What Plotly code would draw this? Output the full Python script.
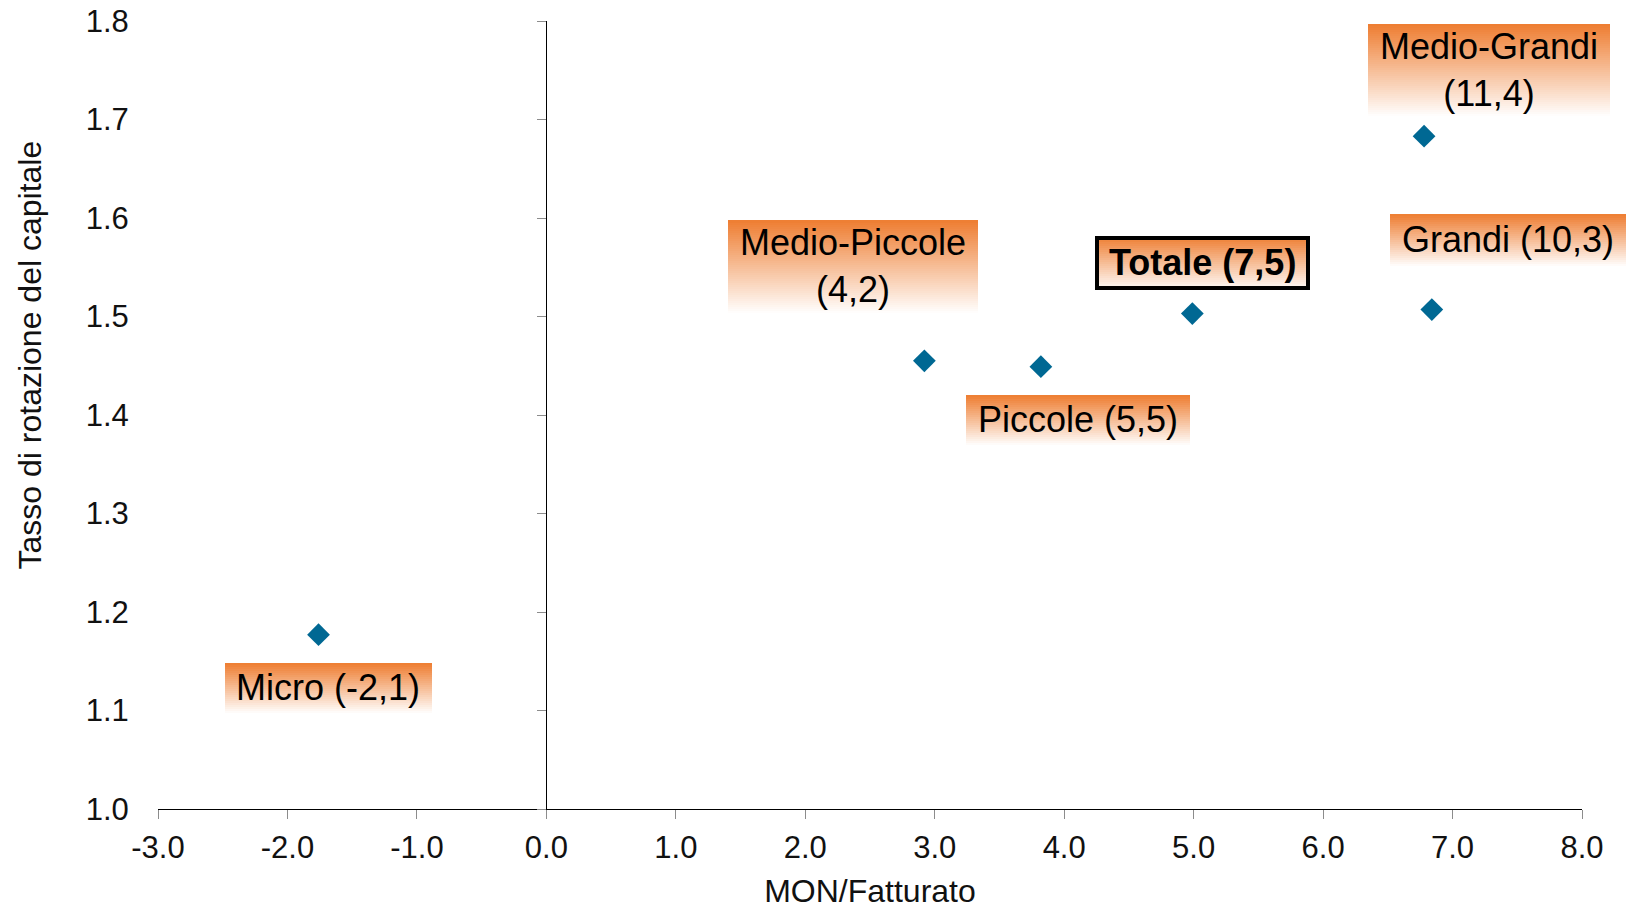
import plotly.graph_objects as go

# ---- data ----
LABELS = ["Micro (-2,1)", "Medio-Piccole<br>(4,2)", "Piccole (5,5)", "Totale (7,5)",
          "Medio-Grandi<br>(11,4)", "Grandi (10,3)"]
X_VALS = [-1.76, 2.92, 3.82, 4.99, 6.78, 6.84]
Y_VALS = [1.177, 1.455, 1.449, 1.503, 1.683, 1.507]
BOLD = [False, False, False, True, False, False]

X_RANGE = [-3.0, 8.0]
Y_RANGE = [1.0, 1.8]
X_TICKS = [-3, -2, -1, 0, 1, 2, 3, 4, 5, 6, 7, 8]
Y_TICKS = [1.0, 1.1, 1.2, 1.3, 1.4, 1.5, 1.6, 1.7, 1.8]

# label box geometry in pixels relative to the point: (left, right, bottom, top), up positive
BOXES = [(-94, 113, -78, -28), (-196, 54, 48, 141), (-75, 149, -78, -28),
         (-97, 118, 24, 78), (-56, 186, 20, 112), (-42, 194, 44, 96)]

FONT = "Liberation Sans, Arial, Helvetica, sans-serif"
ORANGE = (238, 125, 49)
MARKER = "#006893"

fig = go.Figure()
fig.add_trace(go.Scatter(
    x=X_VALS, y=Y_VALS, mode="markers",
    marker=dict(symbol="diamond", size=17.5, color=MARKER, line=dict(width=0)),
    hoverinfo="skip", showlegend=False))
# invisible trace to carry the secondary y axis (drawn at x=0)
fig.add_trace(go.Scatter(x=X_VALS, y=Y_VALS, mode="markers", yaxis="y2",
                         marker=dict(opacity=0), hoverinfo="skip", showlegend=False))

annotations = []
for xv, yv, (l, r, b, t), lab, bold in zip(X_VALS, Y_VALS, BOXES, LABELS, BOLD):
    H = t - b
    W = r - l
    step = 2
    n = H // step
    for i in range(n):
        y0 = b + i * step
        h = step + 1 if i < n - 1 else (t - y0)
        # 0 at bottom (white) -> 1 at top (orange)
        f = (y0 + h / 2 - b) / H
        c = tuple(round(255 + (oc - 255) * f) for oc in ORANGE)
        annotations.append(dict(
            x=xv, y=yv, xref="x", yref="y", text=" ", showarrow=False,
            xanchor="left", yanchor="bottom", xshift=l, yshift=y0,
            width=W, height=h, borderpad=0, borderwidth=0,
            bgcolor="rgb(%d,%d,%d)" % c, font=dict(size=1)))
    if bold:
        annotations.append(dict(
            x=xv, y=yv, xref="x", yref="y", text=" ", showarrow=False,
            xanchor="left", yanchor="bottom", xshift=l, yshift=b,
            width=W - 8, height=H - 8, borderpad=0, borderwidth=4,
            bordercolor="black", bgcolor="rgba(0,0,0,0)", font=dict(size=1)))
    annotations.append(dict(
        x=xv, y=yv, xref="x", yref="y",
        text=("<b>%s</b>" % lab) if bold else lab, showarrow=False,
        xanchor="center", yanchor="middle",
        xshift=(l + r) / 2, yshift=(b + t) / 2,
        font=dict(family=FONT, size=36, color="black")))

# y axis title (placed above centre, as in the original)
annotations.append(dict(x=-0.0892, y=0.5768, xref="paper", yref="paper",
                        text="Tasso di rotazione del capitale", showarrow=False,
                        textangle=-90, xanchor="center", yanchor="middle",
                        font=dict(family=FONT, size=32, color="#111")))

fig.update_layout(
    width=1628, height=909,
    margin=dict(l=158, r=46, t=21, b=100, autoexpand=False),
    paper_bgcolor="white", plot_bgcolor="white",
    font=dict(family=FONT, size=31, color="#111"),
    showlegend=False,
    xaxis=dict(range=X_RANGE, tickmode="array", tickvals=X_TICKS,
               ticktext=["%.1f" % v for v in X_TICKS],
               title=dict(text="MON/Fatturato", standoff=15,
                          font=dict(family=FONT, size=32, color="#111")),
               automargin=False, ticklabelstandoff=2,
               showgrid=False, zeroline=False, showline=True, linecolor="black",
               linewidth=1.3, ticks="outside", ticklen=9, tickcolor="#8c8c8c",
               tickwidth=1.3, tickfont=dict(size=31), fixedrange=True),
    yaxis=dict(range=Y_RANGE, tickmode="array", tickvals=Y_TICKS,
               ticktext=["%.1f" % v for v in Y_TICKS], automargin=False,
               showgrid=False, zeroline=False, showline=False,
               ticks="outside", ticklen=22, tickcolor="rgba(0,0,0,0)",
               tickfont=dict(size=31), fixedrange=True),
    yaxis2=dict(range=Y_RANGE, overlaying="y", anchor="free", automargin=False,
                position=(0 - X_RANGE[0]) / (X_RANGE[1] - X_RANGE[0]),
                tickmode="array", tickvals=Y_TICKS, showticklabels=False,
                showgrid=False, zeroline=False, showline=True, linecolor="black",
                linewidth=1.3, ticks="outside", ticklen=9, tickcolor="#8c8c8c",
                tickwidth=1.3, fixedrange=True),
    annotations=annotations,
)

fig.write_html("out.html", config=dict(displayModeBar=False))
